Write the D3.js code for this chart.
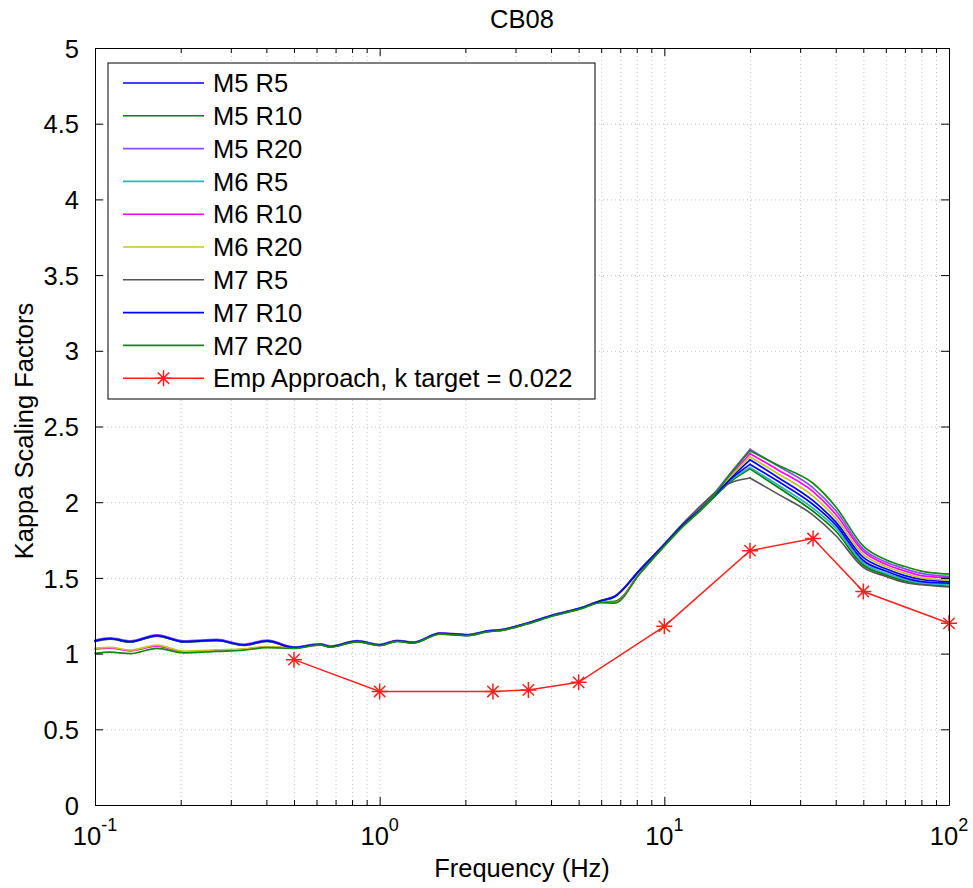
<!DOCTYPE html>
<html>
<head>
<meta charset="utf-8">
<script src="https://cdn.jsdelivr.net/npm/d3@7"></script>
<style>
  html, body { margin: 0; padding: 0; background: #fff; }
  svg text { font-family: "Liberation Sans", Arial, Helvetica, sans-serif; fill: #000; }
</style>
</head>
<body>
<svg id="chart" width="973" height="888"></svg>
<script>
// ---------------- DATA ----------------
const freq = [0.1, 0.113, 0.133, 0.165, 0.205, 0.268, 0.332, 0.402, 0.5, 0.618, 0.67, 0.832, 1.0,
              1.15, 1.31, 1.63, 2.03, 2.39, 2.66, 3.3, 4.08, 5.08, 6.0, 6.7, 8.2,
              10, 11.7, 13.4, 15, 16.7, 20,
              25, 33.3, 40, 50, 60, 70, 80, 100];

const seriesNames = ["M5 R5", "M5 R10", "M5 R20", "M6 R5", "M6 R10", "M6 R20", "M7 R5", "M7 R10", "M7 R20"];

const m5r5 = [1.085,1.100,1.080,1.120,1.080,1.090,1.058,1.085,1.042,1.062,1.047,1.083,1.058,
              1.085,1.073,1.133,1.123,1.148,1.156,1.200,1.255,1.300,1.348,1.376,1.550,
              1.720,1.855,1.955,2.045,2.140,2.280,
              2.165,2.010,1.870,1.635,1.560,1.515,1.490,1.475];
const m5r10 = [1.080,1.096,1.076,1.116,1.076,1.086,1.054,1.081,1.039,1.059,1.044,1.080,1.055,
               1.083,1.071,1.131,1.121,1.146,1.154,1.198,1.252,1.296,1.342,1.345,1.530,
               1.712,1.845,1.945,2.035,2.120,2.220,
               2.100,1.940,1.810,1.585,1.520,1.480,1.460,1.445];
const m5r20 = [1.090,1.104,1.084,1.124,1.084,1.094,1.062,1.089,1.045,1.065,1.050,1.086,1.061,
               1.088,1.076,1.137,1.126,1.151,1.159,1.203,1.258,1.302,1.345,1.338,1.530,
               1.715,1.855,1.960,2.060,2.170,2.350,
               2.240,2.095,1.945,1.690,1.605,1.560,1.530,1.510];
const m6r5 = [1.083,1.098,1.078,1.118,1.078,1.088,1.056,1.083,1.041,1.061,1.046,1.082,1.057,
              1.084,1.072,1.132,1.122,1.147,1.155,1.199,1.254,1.300,1.350,1.378,1.552,
              1.722,1.855,1.955,2.045,2.130,2.230,
              2.115,1.960,1.830,1.600,1.530,1.490,1.465,1.455];
const m6r10 = [1.030,1.036,1.018,1.050,1.012,1.020,1.028,1.045,1.038,1.058,1.044,1.079,1.054,
               1.082,1.070,1.130,1.120,1.145,1.153,1.197,1.252,1.297,1.340,1.340,1.535,
               1.715,1.850,1.955,2.050,2.155,2.320,
               2.215,2.070,1.920,1.675,1.590,1.545,1.515,1.500];
const m6r20 = [1.036,1.041,1.023,1.056,1.016,1.024,1.031,1.047,1.039,1.059,1.045,1.080,1.055,
               1.083,1.071,1.131,1.121,1.146,1.154,1.198,1.253,1.298,1.338,1.336,1.532,
               1.713,1.848,1.952,2.048,2.150,2.300,
               2.190,2.040,1.895,1.655,1.575,1.530,1.500,1.485];
const m7r5 = [1.082,1.097,1.077,1.117,1.077,1.087,1.055,1.082,1.040,1.060,1.045,1.081,1.056,
              1.084,1.072,1.132,1.122,1.147,1.155,1.199,1.254,1.300,1.352,1.380,1.555,
              1.725,1.865,1.975,2.060,2.120,2.160,
              2.055,1.915,1.780,1.570,1.510,1.470,1.455,1.440];
const m7r10 = [1.084,1.099,1.079,1.119,1.079,1.089,1.057,1.084,1.041,1.061,1.046,1.082,1.057,
               1.085,1.073,1.133,1.123,1.148,1.156,1.200,1.255,1.300,1.349,1.377,1.551,
               1.720,1.855,1.955,2.045,2.135,2.250,
               2.140,1.985,1.850,1.615,1.545,1.500,1.475,1.465];
const m7r20 = [1.002,1.010,1.000,1.034,1.005,1.015,1.022,1.040,1.034,1.057,1.043,1.078,1.053,
               1.081,1.069,1.129,1.119,1.144,1.152,1.196,1.250,1.295,1.336,1.333,1.528,
               1.710,1.845,1.950,2.050,2.165,2.340,
               2.245,2.125,1.970,1.710,1.620,1.575,1.545,1.525];

const empFreq = [0.5, 1, 2.5, 3.33, 5, 10, 20, 33.3, 50, 100];
const empVals = [0.96, 0.75, 0.75, 0.76, 0.81, 1.18, 1.68, 1.76, 1.41, 1.20];
const empName = "Emp Approach, k target = 0.022";

const yTicks = [0, 0.5, 1, 1.5, 2, 2.5, 3, 3.5, 4, 4.5, 5];
const xMajor = [0.1, 1, 10, 100];
const xExpLabels = ["-1", "0", "1", "2"];
const xMinor = [0.2,0.3,0.4,0.5,0.6,0.7,0.8,0.9, 2,3,4,5,6,7,8,9, 20,30,40,50,60,70,80,90];

const colors = ["#0000ff", "#008000", "#8a4dff", "#2ab5b8", "#ff00ff", "#c4c41c", "#555555", "#0000ff", "#118a11"];
const empColor = "#ff1f1f";

// ---------------- CHART ----------------
const allSeries = [m5r5, m5r10, m5r20, m6r5, m6r10, m6r20, m7r5, m7r10, m7r20];
const svg = d3.select("#chart");
const L = 95, R = 949, T = 48, B = 805;
const FS = 25.5;

const x = d3.scaleLog().domain([0.1, 100]).range([L, R]);
const y = d3.scaleLinear().domain([0, 5]).range([B, T]);

svg.append("rect").attr("x", 0).attr("y", 0).attr("width", 973).attr("height", 888).attr("fill", "#fff");

// grid
const gridStyle = g => g.selectAll("line").attr("stroke", "#c4c4c4").attr("stroke-width", 1).attr("stroke-dasharray", "1,3");
svg.append("g").attr("transform", `translate(0,${B})`)
  .call(d3.axisBottom(x).tickValues(xMajor.concat(xMinor)).tickSize(-(B - T)).tickFormat(""))
  .call(g => g.select(".domain").remove())
  .call(gridStyle);
svg.append("g").attr("transform", `translate(${L},0)`)
  .call(d3.axisLeft(y).tickValues(yTicks).tickSize(-(R - L)).tickFormat(""))
  .call(g => g.select(".domain").remove())
  .call(gridStyle);

// model lines: smooth on both sides of the sharp 20 Hz peak
const pts = s => s.map((v, i) => [freq[i], v]);
const smooth = d3.line().x(d => x(d[0])).y(d => y(d[1])).curve(d3.curveMonotoneX);
const iPeak = freq.indexOf(20);
allSeries.forEach((s, k) => {
  const p = pts(s);
  [p.slice(0, iPeak + 1), p.slice(iPeak)].forEach(dd => {
    svg.append("path").datum(dd).attr("d", smooth)
      .attr("fill", "none").attr("stroke", colors[k]).attr("stroke-width", 1.7)
      .attr("stroke-linejoin", "round").attr("stroke-linecap", "round");
  });
});

// emp approach
const empLine = d3.line().x((d, i) => x(empFreq[i])).y(d => y(d));
svg.append("path").datum(empVals).attr("d", empLine)
  .attr("fill", "none").attr("stroke", empColor).attr("stroke-width", 1.5);
function starPath(r) {
  const a = r * Math.SQRT1_2;
  return `M0,${-r}L0,${r}M${-r},0L${r},0M${-a},${-a}L${a},${a}M${-a},${a}L${a},${-a}`;
}
svg.append("g").selectAll("path").data(empVals).join("path")
  .attr("transform", (d, i) => `translate(${x(empFreq[i])},${y(d)})`)
  .attr("d", starPath(8)).attr("stroke", empColor).attr("stroke-width", 1.5).attr("fill", "none");

// axes (ticks inward on all sides)
const axStyle = g => { g.selectAll("line").attr("stroke", "#000"); g.select(".domain").attr("stroke", "#000"); };
svg.append("g").attr("transform", `translate(0,${B})`)
  .call(d3.axisBottom(x).tickValues(xMajor).tickSizeInner(-8).tickSizeOuter(0).tickFormat(""))
  .call(axStyle);
svg.append("g").attr("transform", `translate(0,${B})`)
  .call(d3.axisBottom(x).tickValues(xMinor).tickSizeInner(-5).tickSizeOuter(0).tickFormat(""))
  .call(g => g.select(".domain").remove()).call(axStyle);
svg.append("g").attr("transform", `translate(0,${T})`)
  .call(d3.axisTop(x).tickValues(xMajor).tickSizeInner(-8).tickSizeOuter(0).tickFormat(""))
  .call(axStyle);
svg.append("g").attr("transform", `translate(0,${T})`)
  .call(d3.axisTop(x).tickValues(xMinor).tickSizeInner(-5).tickSizeOuter(0).tickFormat(""))
  .call(g => g.select(".domain").remove()).call(axStyle);
const left = svg.append("g").attr("transform", `translate(${L},0)`)
  .call(d3.axisLeft(y).tickValues(yTicks).tickSizeInner(-8).tickSizeOuter(0).tickPadding(16)
        .tickFormat(d => String(d)))
  .call(axStyle);
left.attr("font-family", null).attr("font-size", null);
left.selectAll("text").attr("font-size", FS).attr("dy", "0.36em");
svg.append("g").attr("transform", `translate(${R},0)`)
  .call(d3.axisRight(y).tickValues(yTicks).tickSizeInner(-8).tickSizeOuter(0).tickFormat(""))
  .call(axStyle);

// x tick labels 10^n
const xl = svg.append("g");
xMajor.forEach((v, i) => {
  const t = xl.append("text").attr("x", x(v)).attr("y", B + 40).attr("text-anchor", "middle").attr("font-size", FS);
  t.append("tspan").text("10");
  t.append("tspan").attr("dy", -14).attr("font-size", 18).text(xExpLabels[i]);
});

// title & labels
svg.append("text").attr("x", (L + R) / 2).attr("y", 28).attr("text-anchor", "middle").attr("font-size", FS).text("CB08");
svg.append("text").attr("x", (L + R) / 2).attr("y", 877).attr("text-anchor", "middle").attr("font-size", FS).text("Frequency (Hz)");
svg.append("text").attr("transform", "translate(33,431) rotate(-90)").attr("text-anchor", "middle").attr("font-size", FS).text("Kappa Scaling Factors");

// legend
const lg = svg.append("g");
lg.append("rect").attr("x", 108).attr("y", 63).attr("width", 487).attr("height", 336)
  .attr("fill", "#fff").attr("stroke", "#000").attr("stroke-width", 1);
const rowY = i => 83 + i * 32.8;
seriesNames.forEach((n, i) => {
  lg.append("line").attr("x1", 123).attr("x2", 204).attr("y1", rowY(i)).attr("y2", rowY(i))
    .attr("stroke", colors[i]).attr("stroke-width", 1.6);
  lg.append("text").attr("x", 213).attr("y", rowY(i)).attr("dy", "0.36em").attr("font-size", FS).text(n);
});
const ei = seriesNames.length;
lg.append("line").attr("x1", 123).attr("x2", 204).attr("y1", rowY(ei)).attr("y2", rowY(ei))
  .attr("stroke", empColor).attr("stroke-width", 1.5);
lg.append("path").attr("transform", `translate(163.5,${rowY(ei)})`).attr("d", starPath(8))
  .attr("stroke", empColor).attr("stroke-width", 1.5).attr("fill", "none");
lg.append("text").attr("x", 213).attr("y", rowY(ei)).attr("dy", "0.36em").attr("font-size", FS).text(empName);
</script>
</body>
</html>
